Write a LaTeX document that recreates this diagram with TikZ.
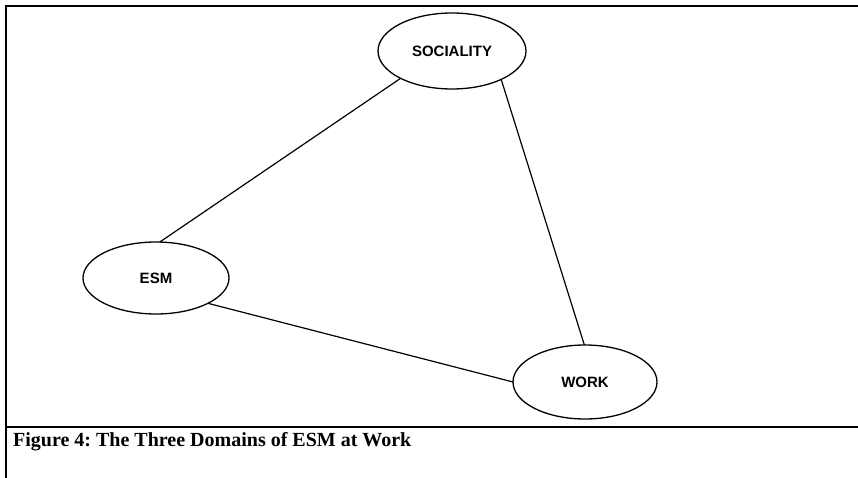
\documentclass[tikz,border=0pt]{standalone}
\usepackage{fontspec}
\setmainfont{Liberation Serif}
\newfontfamily\arialfont{Liberation Sans}
\usetikzlibrary{shapes.geometric}
\tikzset{
  domainbox/.style={ellipse, draw, line width=1.3pt, inner sep=0pt, outer sep=0pt,
    font=\arialfont\bfseries\fontsize{15}{17}\selectfont},
  linkline/.style={line width=1.2pt},
  frameline/.style={line width=1.3pt}
}
\frenchspacing
\begin{document}
\begin{tikzpicture}[x=1pt,y=1pt]
\useasboundingbox (0,0) rectangle (858,478);
% frame
\coordinate (tl) at (6,472);
\coordinate (tr) at (858,472);
\coordinate (bl) at (6,0);
\coordinate (ml) at (6,51);
\coordinate (mr) at (858,51);
\draw[frameline] (tr) -- (tl) -- (bl);
\draw[frameline] (ml) -- (mr);
% nodes
\node[domainbox, minimum width=148, minimum height=76] (soc) at (452,427) {SOCIALITY};
\node[domainbox, minimum width=146, minimum height=72] (esm) at (156,200) {ESM};
\node[domainbox, minimum width=144, minimum height=74] (work) at (585,96) {WORK};
% connectors
\draw[linkline] (soc.208) -- (esm.84);
\draw[linkline] (soc.330) -- (work.91.5);
\draw[linkline] (esm.334) -- (work.180);
% caption
\node[anchor=base west, inner sep=0pt, font=\bfseries\fontsize{20}{22}\selectfont] (cap) at (13,31) {Figure 4: The Three Domains of ESM at Work};
\end{tikzpicture}
\end{document}
